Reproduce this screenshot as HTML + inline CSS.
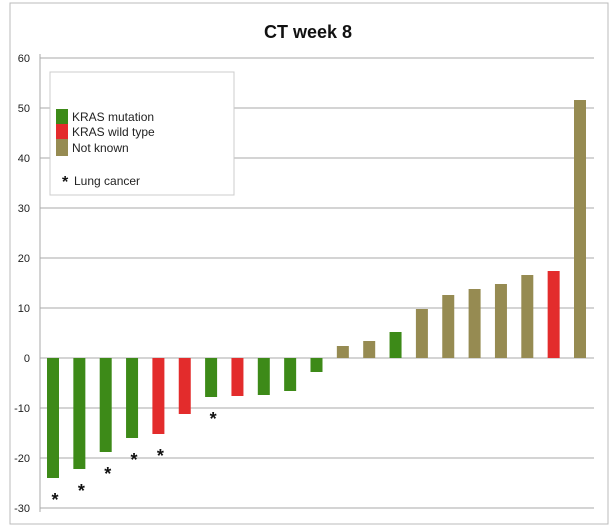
<!DOCTYPE html>
<html><head><meta charset="utf-8"><style>
body{margin:0;background:#fff;font-family:"Liberation Sans",sans-serif}
svg{display:block}
</style></head><body>
<svg id="chart" width="613" height="527" xmlns="http://www.w3.org/2000/svg">
<rect x="10" y="3" width="598" height="521" fill="#fff" stroke="#bbb"/>
<text x="308" y="38" text-anchor="middle" font-size="18" font-weight="bold" fill="#111">CT week 8</text>
<g id="grid"></g><g id="bars"></g><g id="stars"></g>
<g>
<rect x="50" y="72" width="184" height="123" fill="#fff" stroke="#ccc"/>
<rect x="56" y="109" width="12" height="15" fill="#3d8a18"/>
<text x="72" y="121" font-size="12" fill="#222">KRAS mutation</text>
<rect x="56" y="124" width="12" height="15" fill="#e32c2c"/>
<text x="72" y="136" font-size="12" fill="#222">KRAS wild type</text>
<rect x="56" y="139" width="12" height="17" fill="#968b52"/>
<text x="72" y="152" font-size="12" fill="#222">Not known</text>
<text x="62" y="187" font-size="16" font-weight="bold" fill="#111">*</text>
<text x="74" y="185" font-size="12" fill="#222">Lung cancer</text>
</g>
</svg>
<script>
const values=[-24,-22.2,-18.8,-16,-15.2,-11.2,-7.8,-7.6,-7.4,-6.6,-2.8,2.4,3.4,5.2,9.8,12.6,13.8,14.8,16.6,17.4,51.6];
const groups=["M","M","M","M","W","W","M","W","M","M","M","N","N","M","N","N","N","N","N","W","N"];
const lung=[1,1,1,1,1,0,1,0,0,0,0,0,0,0,0,0,0,0,0,0,0];
const ticks=[60,50,40,30,20,10,0,-10,-20,-30];
const colors={M:"#3d8a18",W:"#e32c2c",N:"#968b52"};
const NS="http://www.w3.org/2000/svg";
const y=v=>358-v*5.0;
const x=i=>53+i*26.35;
function mk(t,a,p){const e=document.createElementNS(NS,t);for(const k in a)e.setAttribute(k,a[k]);p.appendChild(e);return e;}
const grid=document.getElementById('grid');
mk('line',{x1:40,y1:54,x2:40,y2:512,stroke:'#aaa'},grid);
ticks.forEach(t=>{
 const l=mk('line',{x1:40,x2:594,y1:y(t),y2:y(t),stroke:'#aaa','stroke-width':1},grid);
 
 
 const tx=mk('text',{x:30,y:y(t)+4,'text-anchor':'end','font-size':11,fill:'#222'},grid);
 tx.textContent=t;
 
 
});
const bars=document.getElementById('bars'),stars=document.getElementById('stars');
values.forEach((v,i)=>{
 const top=Math.min(y(v),y(0)),h=Math.abs(y(v)-y(0));
 const r=mk('rect',{x:x(i)-6,y:top,width:12,height:h,fill:colors[groups[i]]},bars);
 
 
 if(lung[i]){
  const s=mk('text',{x:x(i)+2,y:y(v)+28,'text-anchor':'middle','font-size':18,'font-weight':'bold',fill:'#111'},stars);
  s.textContent='*';
  
  
 }
});
</script>
</body></html>
